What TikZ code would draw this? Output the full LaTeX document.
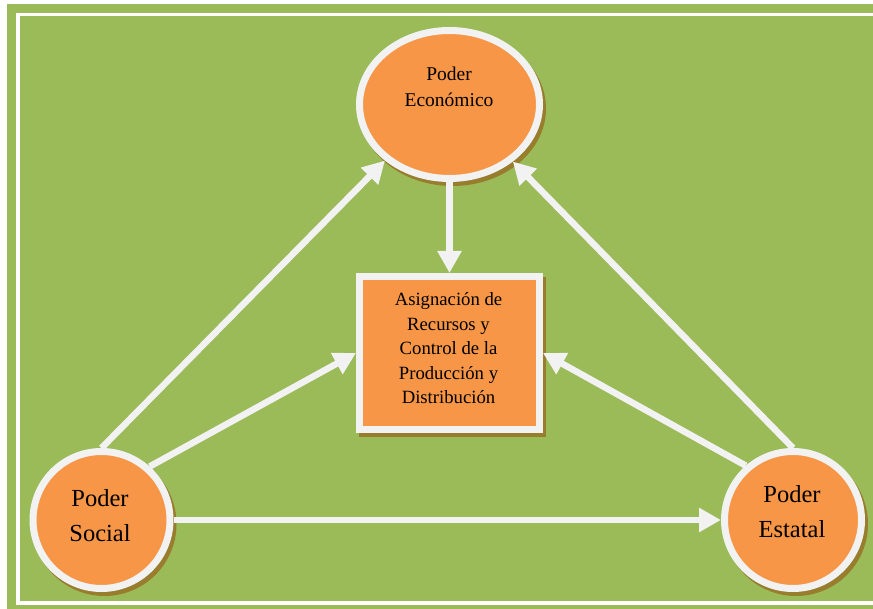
\documentclass[tikz,border=0pt]{standalone}
\usepackage{fontspec}
\setmainfont{Liberation Serif}
\usetikzlibrary{arrows.meta,shapes.geometric,shadows}
\definecolor{bggreen}{HTML}{9BBB59}
\definecolor{orangefill}{HTML}{F79646}
\definecolor{ringwhite}{HTML}{F2F2F2}
\definecolor{shadowcol}{RGB}{152,125,45}
\begin{document}
\begin{tikzpicture}[x=1pt,y=-1pt,
  ringshape/.style={draw=ringwhite, fill=orangefill, line width=7pt, inner sep=0pt,
    copy shadow={shadow xshift=3pt, shadow yshift=-4pt, fill=shadowcol, draw=shadowcol}},
  bigtext/.style={align=center, inner sep=0pt, font=\fontsize{24.5}{35}\selectfont},
  midtext/.style={align=center, inner sep=0pt, font=\fontsize{19.5}{26}\selectfont},
  boxtext/.style={align=center, inner sep=0pt, font=\fontsize{18.7}{24.5}\selectfont},
  arr/.style={draw=ringwhite, line width=6.5pt, -{Triangle[length=22pt,width=23pt]}}]
\useasboundingbox (0,0) rectangle (873,609);
\clip (0,0) rectangle (873,609);
\fill[white] (0,0) rectangle (873,609);
\fill[bggreen] (7,4) rectangle (890,620);
\draw[white, line width=3.2pt] (18,14.8) rectangle (900,603);

\node[ringshape, ellipse, minimum width=180pt, minimum height=148pt] (eco) at (449.5,104.5) {};
\node[ringshape, rectangle, minimum width=180pt, minimum height=153pt] (asig) at (449.5,353) {};
\node[ringshape, circle, minimum size=137pt] (soc) at (101.5,520) {};
\node[ringshape, circle, minimum size=137pt] (est) at (793,520) {};

\node[midtext] (ecotext) at (449,87.3) {Poder\\Económico};
\node[boxtext] (asigtext) at (448.5,348.5) {Asignación de\\Recursos y\\Control de la\\Producción y\\Distribución};
\node[bigtext] (soctext) at (100,515.5) {Poder\\Social};
\node[bigtext] (esttext) at (792,511.5) {Poder\\Estatal};

\draw[arr] (soc.north) -- (eco.221.6);
\draw[arr] (est.north) -- (eco.318.1);
\draw[arr] (soc.48.2) -- (asig.west);
\draw[arr] (est.131) -- (asig.east);
\draw[arr] (soc.east) -- (est.west);
\draw[arr] (eco.south) -- (asig.north);
\end{tikzpicture}
\end{document}
